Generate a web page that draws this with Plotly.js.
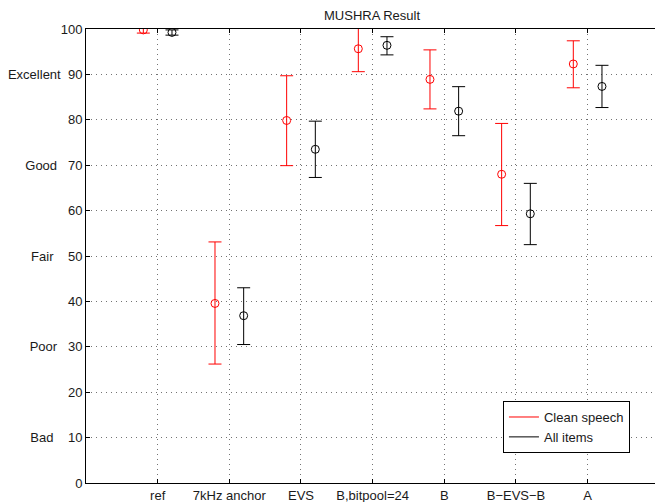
<!DOCTYPE html>
<html><head><meta charset="utf-8">
<script src="https://cdn.plot.ly/plotly-3.0.1.min.js"></script>
<style>html,body{margin:0;padding:0;overflow:hidden;background:#fff}</style>
</head><body><div id="chart" style="width:655px;height:502px"></div>
<script>
const categories = ["ref", "7kHz anchor", "EVS", "B,bitpool=24", "B", "B\u2212EVS\u2212B", "A"];
const cleanMean  = [99.8, 39.55, 79.85, 95.65, 88.9, 68.0, 92.3];
const cleanUpper = [100.5, 53.1, 89.7, 100.7, 95.4, 79.2, 97.4];
const cleanLower = [99.1, 26.2, 69.9, 90.6, 82.4, 56.7, 87.05];
const allMean    = [99.25, 36.85, 73.5, 96.4, 81.9, 59.3, 87.35];
const allUpper   = [99.8, 43.0, 79.7, 98.3, 87.3, 66.0, 92.0];
const allLower   = [98.65, 30.5, 67.3, 94.3, 76.5, 52.5, 82.7];
const yTickVals  = [0,10,20,30,40,50,60,70,80,90,100];
const yTickText  = ["0","Bad\u00a0\u00a0\u00a0\u00a010","20","Poor\u00a0\u00a0\u00a030","40","Fair\u00a0\u00a0\u00a0\u00a050","60","Good\u00a0\u00a0\u00a070","80","Excellent\u00a0\u00a090","100"];
const seriesNames = ["Clean speech", "All items"];

const pos = categories.map((c,i)=>i+1);
function mk(mean, up, lo, off, color, name){
  return {
    x: pos.map(p=>p+off), y: mean, type:'scatter', mode:'markers', showlegend:false, name:name,
    marker:{symbol:'circle-open', size:8, color:color, line:{width:1, color:color}},
    error_y:{type:'data', symmetric:false, array: up.map((u,i)=>u-mean[i]), arrayminus: lo.map((l,i)=>mean[i]-l),
      color:color, thickness:1, width:6.5},
    hoverinfo:'skip'
  };
}
const data = [
  mk(cleanMean, cleanUpper, cleanLower, -0.2, 'red', seriesNames[0]),
  mk(allMean, allUpper, allLower, 0.2, 'black', seriesNames[1]),
  {x:[null], y:[null], type:'scatter', mode:'lines', name:seriesNames[0], line:{color:'red', width:1}},
  {x:[null], y:[null], type:'scatter', mode:'lines', name:seriesNames[1], line:{color:'black', width:1}}
];
const font = {family:'"Liberation Sans", Arial, Helvetica, sans-serif', size:13, color:'#1a1a1a'};
const layout = {
  width:655, height:502,
  margin:{l:86, r:0, t:29, b:19, pad:0},
  paper_bgcolor:'white', plot_bgcolor:'white',
  font: font,
  title:{text:'MUSHRA Result', x:0.5680, xanchor:'center', yref:'container', y:0.970, yanchor:'middle', font:{family:font.family, size:13, color:'#1a1a1a'}},
  xaxis:{range:[0,7.94], tickmode:'array', tickvals:pos, ticktext:categories, ticks:'inside', ticklen:4,
    tickcolor:'black', showline:true, linecolor:'black', linewidth:1, mirror:'ticks',
    showgrid:true, gridcolor:'rgba(0,0,0,0.55)', griddash:'1px,4px', gridwidth:1, zeroline:false,
    tickfont:font, fixedrange:true},
  yaxis:{range:[0,100], tickmode:'array', tickvals:yTickVals, ticktext:yTickText, ticks:'inside', ticklen:4,
    tickcolor:'black', showline:true, linecolor:'black', linewidth:1, mirror:false,
    showgrid:true, gridcolor:'rgba(0,0,0,0.55)', griddash:'1px,4px', gridwidth:1, zeroline:false,
    tickfont:font, fixedrange:true},
  legend:{x:0.956, xanchor:'right', y:0.066, yanchor:'bottom', bgcolor:'white', bordercolor:'black', borderwidth:1,
    font:{family:font.family, size:13, color:'#1a1a1a'}, tracegroupgap:0, itemwidth:30},
  showlegend:true
};
Plotly.newPlot('chart', data, layout, {staticPlot:true, displayModeBar:false});
</script></body></html>
